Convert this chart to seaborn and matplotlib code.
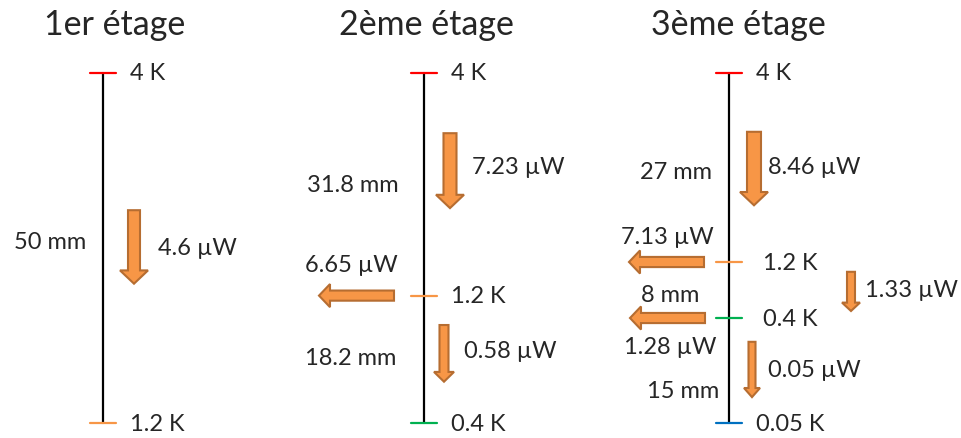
import matplotlib
matplotlib.use("Agg")
import matplotlib.pyplot as plt
import seaborn as sns
import pandas as pd

# stages of the cryostat, lengths between levels (mm), temperatures, heat loads
stages = ["1er étage", "2ème étage", "3ème étage"]
seg_lengths = [[50], [31.8, 18.2], [27, 8, 15]]
temps = [["4 K", "1.2 K"], ["4 K", "1.2 K", "0.4 K"], ["4 K", "1.2 K", "0.4 K", "0.05 K"]]
down_flows = [["4.6 µW"], ["7.23 µW", "0.58 µW"], ["8.46 µW", "0.05 µW"]]
side_flows = [[], ["6.65 µW"], ["7.13 µW", "1.28 µW"]]
extra_flow = "1.33 µW"

# layout (x in pixels, y in mm along the stage)
stage_x = [103, 424, 729]
title_x = [115, 426, 738]
temp_colors = {"4 K": "#FF0000", "1.2 K": "#F79646", "0.4 K": "#00B050", "0.05 K": "#0070C0"}
FILL = "#F79646"
EDGE = "#B66D31"
FONT = ["Lato", "DejaVu Sans"]
FS = 17

sns.set_theme(style="white")
plt.rcParams["font.family"] = FONT

fig = plt.figure(figsize=(9.62, 4.39), dpi=100)
ax = fig.add_axes([0, 0, 1, 1])
ax.set_xlim(0, 962)
ax.set_ylim(52.14, -10.57)
ax.axis("off")

levels = []
for i, segs in enumerate(seg_lengths):
    ys = [0]
    for s in segs:
        ys.append(ys[-1] + s)
    levels.append(ys)
    df = pd.DataFrame({"x": [stage_x[i], stage_x[i]], "y": [ys[0], ys[-1]]})
    sns.lineplot(data=df, x="x", y="y", estimator=None, sort=False,
                 color="black", lw=1.6, ax=ax)
    for y, t in zip(ys, temps[i]):
        ax.plot([stage_x[i] - 13, stage_x[i] + 13], [y, y], color=temp_colors[t], lw=1.6)
        dx = 34 if (i == 2 and t in ("1.2 K", "0.4 K")) else 27
        ax.text(stage_x[i] + dx, y, t, fontsize=FS, va="center", ha="left")
    ax.text(title_x[i], -7, stages[i], fontsize=24.5, ha="center", va="center")


def down_arrow(x, y0, y1, w, hw, hl):
    ax.arrow(x, y0, 0, y1 - y0, width=w, head_width=hw, head_length=hl,
             length_includes_head=True, fc=FILL, ec=EDGE, lw=1.5)


def left_arrow(x0, x1, y):
    ax.arrow(x0, y, x1 - x0, 0, width=1.45, head_width=3.3, head_length=11,
             length_includes_head=True, fc=FILL, ec=EDGE, lw=1.5)


# stage 1
down_arrow(134, 19.6, 30.1, 12, 28, 1.9)
ax.text(158, 24.9, down_flows[0][0], fontsize=FS, va="center")
ax.text(50, 24.0, f"{seg_lengths[0][0]:g} mm", fontsize=FS, va="center", ha="center")

# stage 2
down_arrow(450, 8.6, 19.3, 13, 28, 1.9)
ax.text(472, 13.4, down_flows[1][0], fontsize=FS, va="center")
ax.text(399, 15.9, f"{seg_lengths[1][0]:g} mm", fontsize=FS, va="center", ha="right")
left_arrow(394, 319, levels[1][1])
ax.text(351, 27.3, side_flows[1][0], fontsize=FS, va="center", ha="center")
down_arrow(444, 36.0, 44.1, 9, 20, 1.4)
ax.text(464, 39.7, down_flows[1][1], fontsize=FS, va="center")
ax.text(396, 40.7, f"{seg_lengths[1][1]:g} mm", fontsize=FS, va="center", ha="right")

# stage 3
down_arrow(754, 8.4, 18.9, 14, 28, 1.9)
ax.text(768, 13.4, down_flows[2][0], fontsize=FS, va="center")
ax.text(712, 14.1, f"{seg_lengths[2][0]:g} mm", fontsize=FS, va="center", ha="right")
ax.text(667, 23.3, side_flows[2][0], fontsize=FS, va="center", ha="center")
left_arrow(704, 629, levels[2][1])
ax.text(670, 31.6, f"{seg_lengths[2][1]:g} mm", fontsize=FS, va="center", ha="center")
left_arrow(705, 630, levels[2][2])
ax.text(670, 39.1, side_flows[2][1], fontsize=FS, va="center", ha="center")
ax.text(719, 45.4, f"{seg_lengths[2][2]:g} mm", fontsize=FS, va="center", ha="right")
down_arrow(752, 38.4, 46.3, 7, 16, 1.3)
ax.text(768, 42.3, down_flows[2][1], fontsize=FS, va="center")
down_arrow(851, 28.4, 34.0, 8, 18, 1.2)
ax.text(865, 30.9, extra_flow, fontsize=FS, va="center")

fig.savefig("out.png", dpi=100)
